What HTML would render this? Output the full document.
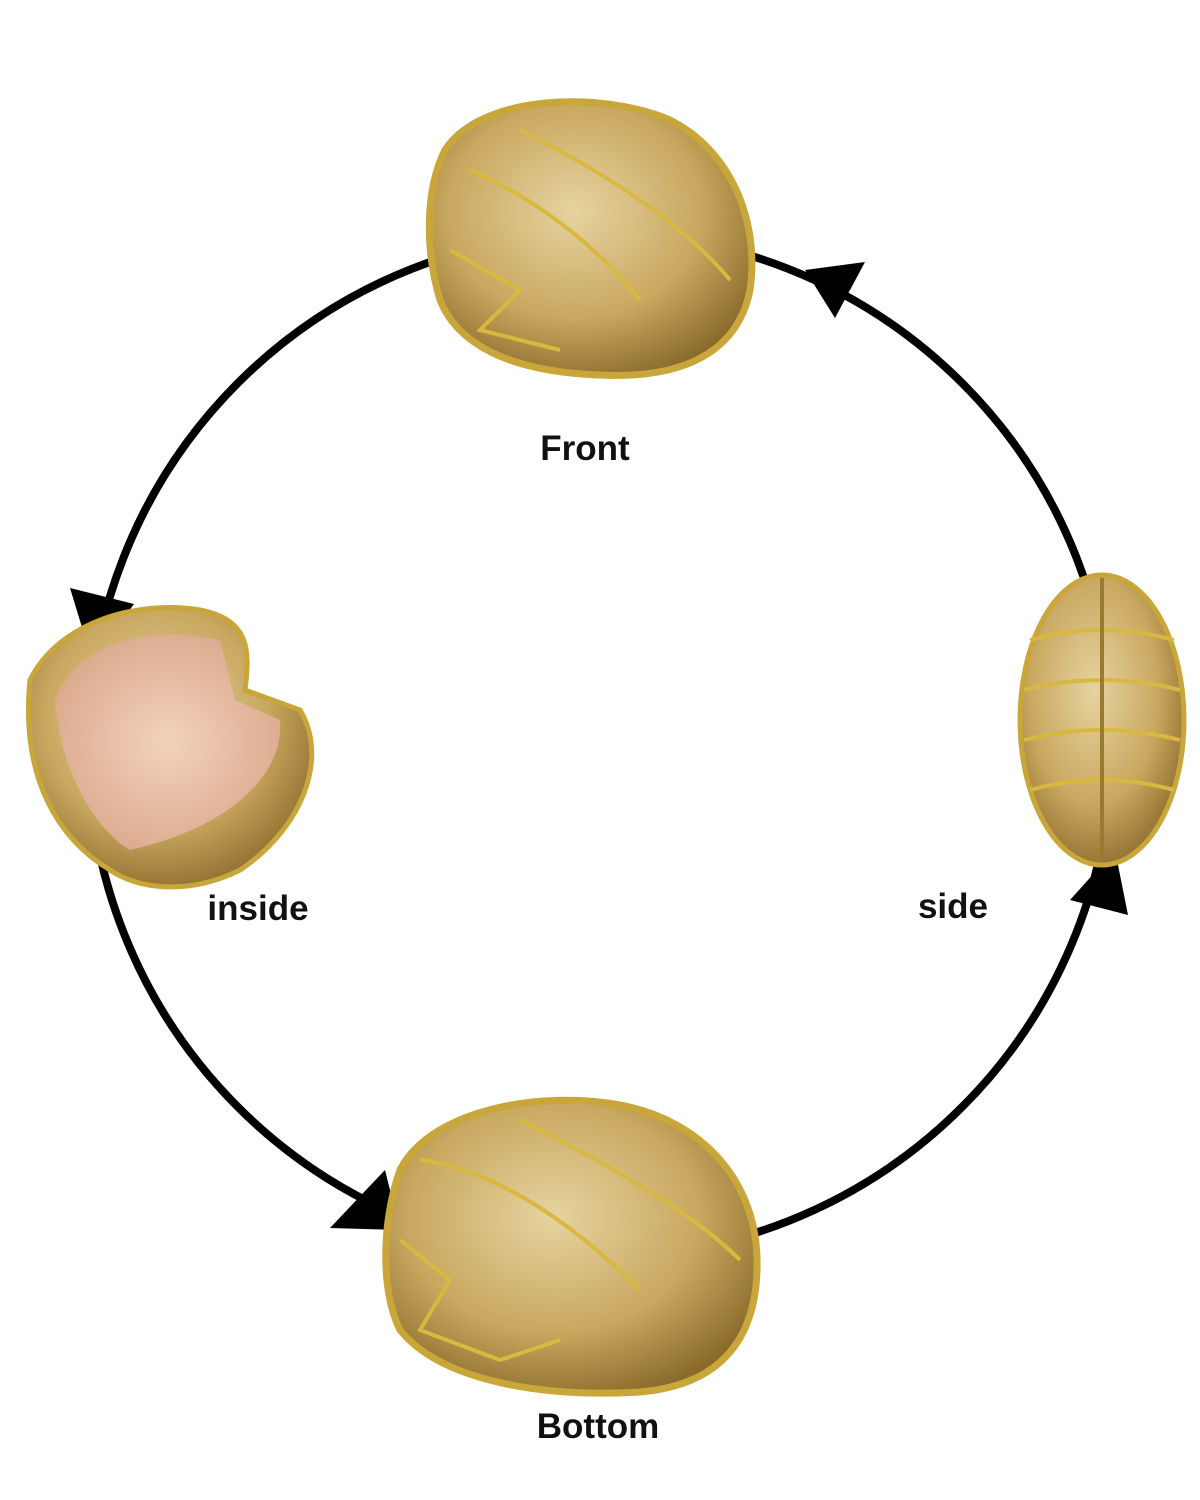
<!DOCTYPE html>
<html><head><meta charset="utf-8"><style>
html,body{margin:0;padding:0;background:#fff}
svg{display:block}
text{font-family:"Liberation Sans","DejaVu Sans",sans-serif;font-size:35px;font-weight:bold;fill:#111}
</style></head><body>
<svg width="1200" height="1500" viewBox="0 0 1200 1500" xmlns="http://www.w3.org/2000/svg">
<defs>
<radialGradient id="g" cx="45%" cy="40%" r="65%">
<stop offset="0" stop-color="#e6d3a0"/><stop offset="0.6" stop-color="#c9a860"/><stop offset="1" stop-color="#8a6a2a"/>
</radialGradient>
<radialGradient id="p" cx="50%" cy="50%" r="60%">
<stop offset="0" stop-color="#f3d2bd"/><stop offset="1" stop-color="#d9a689"/>
</radialGradient>
</defs>
<circle cx="600" cy="745" r="512" fill="none" stroke="#000" stroke-width="8"/>
<polygon points="805,270 865,262 835,318" fill="#000"/>
<polygon points="92,660 70,588 134,604" fill="#000"/>
<polygon points="400,1230 330,1228 385,1170" fill="#000"/>
<polygon points="1115,850 1070,900 1128,915" fill="#000"/>
<path d="M445,150 C480,95 600,90 670,120 C730,150 760,220 750,290 C740,340 700,380 600,375 C520,372 460,350 440,300 C425,250 425,190 445,150Z" fill="url(#g)" stroke="#c9a63a" stroke-width="7"/>
<g stroke="#d9b840" stroke-width="4" fill="none">
<path d="M470,170 C540,200 600,250 640,300"/><path d="M520,130 C600,170 680,220 730,280"/><path d="M450,250 L520,290 L480,330 L560,350"/>
</g>
<path d="M30,680 C60,620 140,600 200,610 C250,620 250,650 245,690 L300,710 C330,760 300,830 240,870 C190,895 140,890 110,870 C60,840 20,780 30,680Z" fill="url(#g)" stroke="#c9a63a" stroke-width="5"/>
<path d="M55,700 C80,640 150,625 220,640 L235,700 L280,720 C285,780 220,830 130,850 C95,830 60,770 55,700Z" fill="url(#p)"/>
<ellipse cx="1102" cy="720" rx="82" ry="145" fill="url(#g)" stroke="#c9a63a" stroke-width="5"/>
<g stroke="#d9b840" stroke-width="4" fill="none">
<path d="M1030,640 Q1102,620 1174,640"/><path d="M1024,690 Q1102,670 1180,690"/><path d="M1024,740 Q1102,720 1180,740"/><path d="M1030,790 Q1102,770 1174,790"/>
</g>
<line x1="1102" y1="578" x2="1102" y2="862" stroke="#9a7a30" stroke-width="4"/>
<path d="M400,1170 C430,1110 540,1090 620,1105 C700,1120 760,1180 757,1270 C755,1340 720,1385 640,1392 C540,1398 440,1380 400,1330 C380,1290 382,1220 400,1170Z" fill="url(#g)" stroke="#c9a63a" stroke-width="7"/>
<g stroke="#d9b840" stroke-width="4" fill="none">
<path d="M420,1160 C500,1170 580,1230 640,1290"/><path d="M520,1120 C600,1160 690,1210 740,1260"/><path d="M400,1240 L450,1280 L420,1330 L500,1360 L560,1340"/>
</g>
<text x="585" y="460" text-anchor="middle">Front</text>
<text x="258" y="920" text-anchor="middle">inside</text>
<text x="953" y="918" text-anchor="middle">side</text>
<text x="598" y="1438" text-anchor="middle">Bottom</text>
</svg>
</body></html>
